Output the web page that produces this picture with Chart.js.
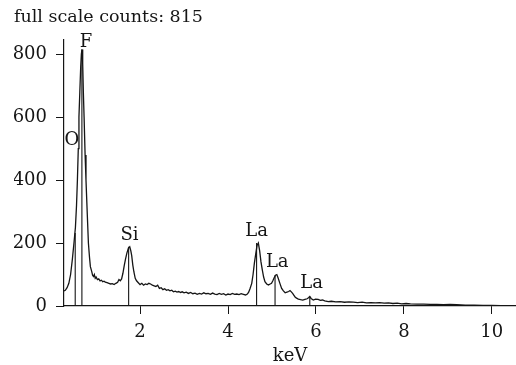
<!DOCTYPE html>
<html>
<head>
<meta charset="utf-8">
<script src="https://cdn.jsdelivr.net/npm/chart.js@4/dist/chart.umd.min.js"></script>
<style>
  html, body { margin: 0; padding: 0; background: #ffffff; }
  #wrap { width: 516px; height: 365px; }
</style>
</head>
<body>
<div id="wrap"><canvas id="c" width="516" height="365"></canvas></div>
<script>
// ---- data ----
const titleText = "full scale counts: 815";
const xAxisTitle = "keV";
const xTickValues = [2, 4, 6, 8, 10];
const yTickValues = [0, 200, 400, 600, 800];

// spectrum: energy (keV) and counts
const energyKeV = [
  0.27,0.30,0.34,0.38,0.42,0.46,0.50,0.53,0.555,0.575,0.595,0.61,0.63,0.65,0.665,0.68,0.695,0.71,0.727,0.75,
  0.77,0.80,0.825,0.85,0.87,0.90,0.92,0.94,0.96,0.98,1.00,1.03,1.06,1.09,1.12,1.15,1.18,1.21,1.25,1.29,
  1.33,1.37,1.41,1.45,1.49,1.52,1.55,1.58,1.61,1.64,1.67,1.70,1.735,1.765,1.79,1.81,1.835,1.86,1.89,1.92,
  1.96,2.00,2.04,2.08,2.12,2.16,2.20,2.24,2.28,2.32,2.36,2.40,2.44,2.48,2.52,2.56,2.60,2.64,2.68,2.72,
  2.76,2.80,2.84,2.88,2.92,2.96,3.00,3.05,3.10,3.15,3.20,3.25,3.30,3.35,3.40,3.45,3.50,3.55,3.60,3.65,
  3.70,3.75,3.80,3.85,3.90,3.95,4.00,4.05,4.10,4.15,4.20,4.25,4.30,4.35,4.40,4.44,4.47,4.50,4.54,4.57,
  4.60,4.63,4.66,4.69,4.72,4.75,4.78,4.81,4.84,4.88,4.92,4.96,4.99,5.02,5.05,5.08,5.11,5.14,5.18,5.22,
  5.26,5.30,5.34,5.38,5.41,5.44,5.47,5.50,5.53,5.56,5.60,5.65,5.70,5.75,5.80,5.83,5.86,5.89,5.94,5.99,
  6.05,6.10,6.15,6.20,6.28,6.35,6.45,6.55,6.65,6.75,6.85,6.95,7.05,7.15,7.25,7.35,7.45,7.55,7.65,7.75,
  7.85,7.95,8.05,8.15,8.30,8.45,8.60,8.75,8.90,9.05,9.20,9.40,9.60,9.80,10.00,10.20,10.40,10.55
];
const counts = [
  48,50,58,72,100,148,205,250,320,400,500,600,680,760,800,815,770,680,600,480,
  400,290,200,155,125,110,98,94,100,88,92,84,86,80,82,77,79,76,74,72,
  70,71,68,72,75,84,80,86,104,128,150,168,184,188,175,160,130,108,88,80,
  74,68,72,66,70,68,72,70,66,64,62,66,56,58,52,55,50,52,48,50,
  45,47,44,46,43,45,42,44,40,43,39,41,37,40,38,42,39,40,37,41,
  38,36,40,37,39,35,38,36,40,37,38,36,39,37,35,38,44,55,72,100,
  136,165,192,200,175,140,115,92,77,70,67,70,72,80,90,98,100,89,72,56,
  48,42,44,46,49,45,40,34,28,25,22,20,19,21,23,26,30,24,19,22,
  21,18,19,16,14,15,13,14,12,13,12,11,12,10,11,10,11,9,10,8,
  9,7,8,7,6,6,5,5,4,5,4,3,3,2,2,1,1,1
];

// element marker lines
const markerNames = ["O", "F", "Si", "La", "La", "La"];
const markerKeV = [0.525, 0.677, 1.74, 4.65, 5.07, 5.86];
const markerCounts = [232, 815, 188, 200, 98, 30];
// where each element label sits (data units)
const labelKeV = [0.45, 0.77, 1.76, 4.65, 5.12, 5.90];
const labelCounts = [527, 838, 224, 238, 138, 71];

// ---- chart ----
const FONT = "'DejaVu Serif', 'Liberation Serif', serif";
const INK = "#151515";
const FS = 18;

const spectrum = energyKeV.map((e, i) => ({ x: e, y: counts[i] }));
const markerSets = markerKeV.map((e, i) => ({
  data: [{ x: e, y: 0 }, { x: e, y: markerCounts[i] }],
  showLine: true,
  borderColor: INK,
  borderWidth: 1.1,
  pointRadius: 0,
  tension: 0
}));

const labelPlugin = {
  id: 'peakLabels',
  afterDatasetsDraw(chart) {
    const ctx = chart.ctx;
    const xs = chart.scales.x, ys = chart.scales.y;
    ctx.save();
    ctx.fillStyle = INK;
    ctx.font = FS + "px " + FONT;
    ctx.textAlign = 'center';
    ctx.textBaseline = 'middle';
    markerNames.forEach((n, i) => {
      ctx.fillText(n, xs.getPixelForValue(labelKeV[i]), ys.getPixelForValue(labelCounts[i]));
    });
    ctx.restore();
  }
};

Chart.defaults.font.family = FONT;
Chart.defaults.color = INK;

new Chart(document.getElementById('c'), {
  type: 'scatter',
  data: {
    datasets: [{
      data: spectrum,
      showLine: true,
      borderColor: INK,
      borderWidth: 1.3,
      pointRadius: 0,
      tension: 0
    }, ...markerSets]
  },
  options: {
    responsive: false,
    animation: false,
    events: [],
    layout: { padding: { left: 14, right: 0, top: 0, bottom: 0 } },
    plugins: {
      legend: { display: false },
      tooltip: { enabled: false },
      title: {
        display: true,
        text: titleText,
        align: 'start',
        color: INK,
        font: { size: 17.5, weight: 'normal', family: FONT },
        padding: { top: 7, bottom: 12 }
      }
    },
    scales: {
      x: {
        type: 'linear',
        min: 0.27,
        max: 10.55,
        afterBuildTicks: (s) => { s.ticks = xTickValues.map(v => ({ value: v })); },
        afterFit: (s) => { s.height = 59; },
        grid: { drawOnChartArea: false, drawTicks: true, tickLength: 8, color: INK, lineWidth: 1 },
        border: { display: true, color: INK, width: 1.2 },
        ticks: { color: INK, font: { size: FS }, padding: 8, maxRotation: 0 },
        title: { display: true, text: xAxisTitle, color: INK, font: { size: FS }, padding: { top: 0, bottom: -2 } }
      },
      y: {
        type: 'linear',
        min: 0,
        max: 845,
        afterBuildTicks: (s) => { s.ticks = yTickValues.map(v => ({ value: v })); },
        afterFit: (s) => { s.width = 50; },
        grid: { drawOnChartArea: false, drawTicks: true, tickLength: 8, color: INK, lineWidth: 1 },
        border: { display: true, color: INK, width: 1.2 },
        ticks: { color: INK, font: { size: FS }, padding: 9 }
      }
    }
  },
  plugins: [labelPlugin]
});
</script>
</body>
</html>
